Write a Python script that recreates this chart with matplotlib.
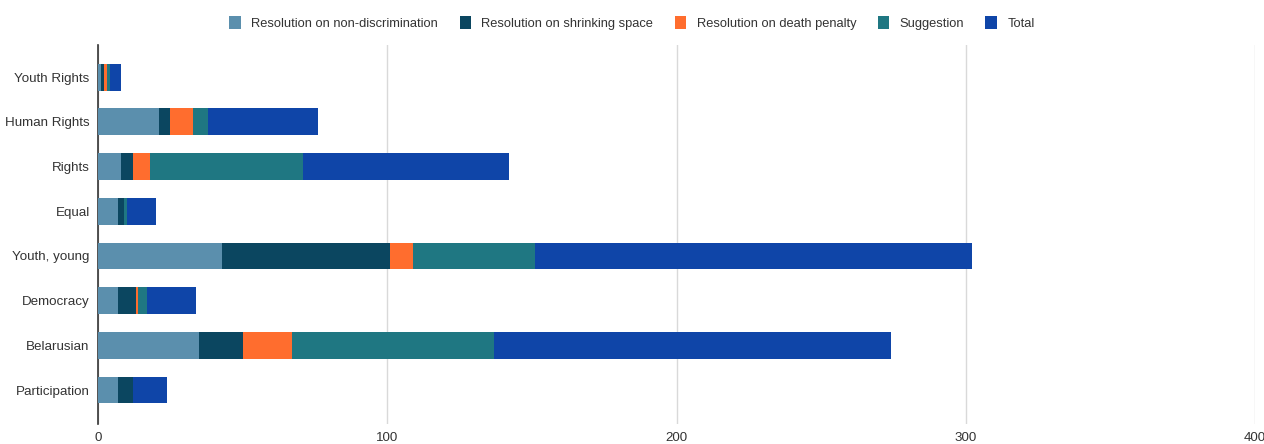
import numpy as np
import matplotlib.pyplot as plt

plt.rcParams['font.family'] = ['Liberation Sans', 'DejaVu Sans']

categories = ["Youth Rights", "Human Rights", "Rights", "Equal",
              "Youth, young", "Democracy", "Belarusian", "Participation"]
non_discrimination = [1, 21, 8, 7, 43, 7, 35, 7]
shrinking_space = [1, 4, 4, 2, 58, 6, 15, 5]
death_penalty = [1, 8, 6, 0, 8, 1, 17, 0]
suggestion = [1, 5, 53, 1, 42, 3, 70, 0]
total = [4, 38, 71, 10, 151, 17, 137, 12]

series = [
    ("Resolution on non-discrimination", non_discrimination, "#5b8fad"),
    ("Resolution on shrinking space", shrinking_space, "#0b4660"),
    ("Resolution on death penalty", death_penalty, "#ff6d2e"),
    ("Suggestion", suggestion, "#1f7782"),
    ("Total", total, "#0f45a8"),
]

fig = plt.figure(figsize=(12.64, 4.44), dpi=100)
ax = fig.add_axes([0.0775, 0.045, 0.9155, 0.8536])

y = np.arange(len(categories))
left = np.zeros(len(categories))
for name, vals, color in series:
    ax.barh(y, vals, left=left, height=0.6, color=color, label=name, zorder=3)
    left += np.array(vals)

ax.set_yticks(y)
ax.set_yticklabels(categories, fontsize=9.6, color="#333333")
ax.set_ylim(7.76, -0.72)
ax.set_xlim(0, 400)
ax.set_xticks([0, 100, 200, 300, 400])
ax.tick_params(axis="x", length=0, labelsize=9.6, labelcolor="#333333", pad=6)
ax.tick_params(axis="y", length=0, pad=6)
ax.grid(axis="x", color="#d9d9d9", linewidth=1, zorder=0)
for s in ["top", "right", "bottom"]:
    ax.spines[s].set_visible(False)
ax.spines["left"].set_color("#333333")
ax.spines["left"].set_linewidth(1.2)

fig.legend(loc="upper center", bbox_to_anchor=(0.5, 0.99), ncol=5, frameon=False,
           fontsize=9.3, handlelength=0.9, handleheight=1.2, handletextpad=0.8,
           columnspacing=1.65, labelcolor="#333333")

fig.savefig("out.png", dpi=100)
